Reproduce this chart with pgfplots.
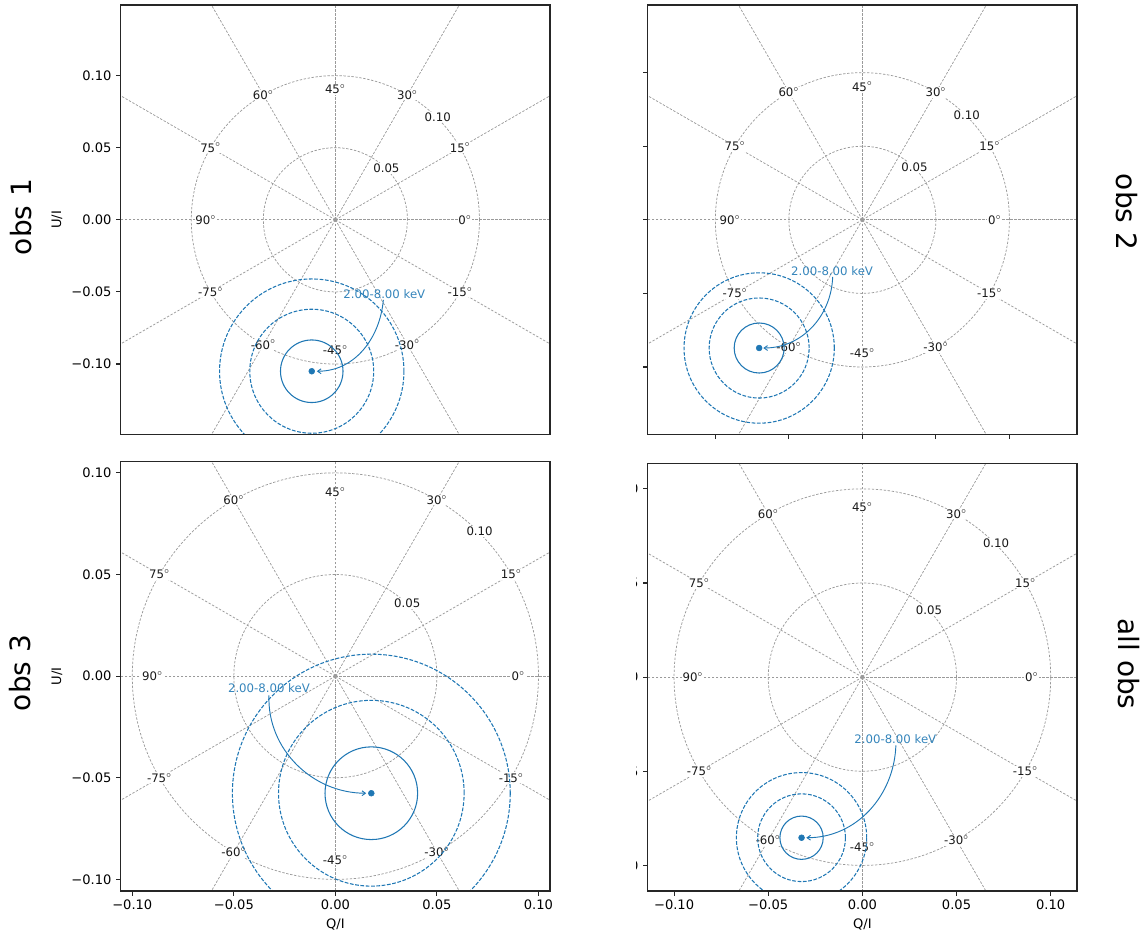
\documentclass[border=0pt]{standalone}
\usepackage{pgfplots}
\pgfplotsset{compat=1.18}
\usepackage{fontspec}
\setmainfont{DejaVu Sans}
\usetikzlibrary{arrows.meta}
\definecolor{tabblue}{HTML}{1F77B4}
\definecolor{gridgray}{HTML}{9A9A9A}
\newcommand{\dg}{$^{\circ}$}
\tikzset{
  gridline/.style={gridgray, line width=0.55pt, dash pattern=on 1.8pt off 1.2pt},
  lab/.style={fill=white, inner sep=0.6pt, font=\fontsize{8.8}{9}\selectfont, text=black!90},
  errc/.style={tabblue, line width=0.8pt},
  errd/.style={tabblue, line width=0.8pt, dash pattern=on 2.8pt off 1.2pt},
  ann/.style={text=tabblue!90, font=\fontsize{8.8}{9}\selectfont, inner sep=0pt},
  annarrow/.style={tabblue, line width=0.7pt, -{Straight Barb[length=2.6pt,width=3.6pt]}},
}
\newcommand{\polargrid}{%
  \draw[gridline] (axis cs:0,0) circle[radius=0.05];
  \draw[gridline] (axis cs:0,0) circle[radius=0.10];
  \draw[gridline] (axis cs:0,0) -- (axis cs:0.3,0);
  \draw[gridline] (axis cs:0,0) -- (axis cs:-0.3,0);
  \draw[gridline] (axis cs:0,0) -- (axis cs:0,0.3);
  \draw[gridline] (axis cs:0,0) -- (axis cs:0,-0.3);
  \draw[gridline] (axis cs:0,0) -- (axis cs:0.2598,0.15);
  \draw[gridline] (axis cs:0,0) -- (axis cs:-0.2598,-0.15);
  \draw[gridline] (axis cs:0,0) -- (axis cs:0.15,0.2598);
  \draw[gridline] (axis cs:0,0) -- (axis cs:-0.15,-0.2598);
  \draw[gridline] (axis cs:0,0) -- (axis cs:-0.15,0.2598);
  \draw[gridline] (axis cs:0,0) -- (axis cs:0.15,-0.2598);
  \draw[gridline] (axis cs:0,0) -- (axis cs:-0.2598,0.15);
  \draw[gridline] (axis cs:0,0) -- (axis cs:0.2598,-0.15);
  \node[lab] at (axis cs:0.09,0) {0\dg};
  \node[lab] at (axis cs:0.0866,0.05) {15\dg};
  \node[lab] at (axis cs:0.05,0.0866) {30\dg};
  \node[lab] at (axis cs:0,0.0905) {45\dg};
  \node[lab] at (axis cs:-0.05,0.0866) {60\dg};
  \node[lab] at (axis cs:-0.0866,0.05) {75\dg};
  \node[lab] at (axis cs:-0.09,0) {90\dg};
  \node[lab] at (axis cs:-0.0866,-0.05) {-75\dg};
  \node[lab] at (axis cs:-0.05,-0.0866) {-60\dg};
  \node[lab] at (axis cs:0,-0.0905) {-45\dg};
  \node[lab] at (axis cs:0.05,-0.0866) {-30\dg};
  \node[lab] at (axis cs:0.0866,-0.05) {-15\dg};
  \node[lab] at (axis cs:0.0354,0.0357) {0.05};
  \node[lab] at (axis cs:0.0710,0.0712) {0.10};
  \addplot[only marks, mark=*, mark size=1.1pt, color=gridgray] coordinates {(0,0)};
}
\pgfplotsset{
  pol/.style={
    scale only axis, anchor=south west,
    width=322pt, height=322.3pt,
    axis line style={line width=1pt, black!85},
    tick align=outside, tick pos=left,
    major tick length=3.4pt,
    every tick/.style={black!85, line width=0.8pt},
    tick label style={font=\fontsize{9.8}{10}\selectfont},
    label style={font=\fontsize{9.8}{10}\selectfont},
    xtick={-0.1,-0.05,0,0.05,0.1},
    ytick={-0.1,-0.05,0,0.05,0.1},
    xticklabels={−0.10,−0.05,0.00,0.05,0.10},
    yticklabels={−0.10,−0.05,0.00,0.05,0.10},
    clip=true, axis on top,
  }
}
\begin{document}
\begin{tikzpicture}
\useasboundingbox (0pt,0pt) rectangle (856.5pt,699.75pt);

% obs 1
\begin{axis}[pol, at={(90.53pt,373.73pt)},
  xmin=-0.149, xmax=0.149, ymin=-0.149, ymax=0.149,
  xtick=\empty, ylabel={U/I}]
  \polargrid
  \draw[errd] (axis cs:-0.0164,-0.105) circle[radius=0.064];
  \draw[errd] (axis cs:-0.0164,-0.105) circle[radius=0.043];
  \draw[errc] (axis cs:-0.0164,-0.105) circle[radius=0.0217];
  \addplot[only marks, mark=*, mark size=2.2pt, color=tabblue] coordinates {(-0.0164,-0.105)};
  \node[ann] at (axis cs:0.034,-0.0517) {2.00-8.00 keV};
  \draw[annarrow] (axis cs:0.0333,-0.0555) to[out=265,in=0] (axis cs:-0.0129,-0.105);
\end{axis}

% obs 2
\begin{axis}[pol, at={(485.78pt,373.73pt)},
  xmin=-0.146, xmax=0.146, ymin=-0.146, ymax=0.146,
  xticklabels=\empty, yticklabels=\empty]
  \polargrid
  \draw[errd] (axis cs:-0.0702,-0.0871) circle[radius=0.0511];
  \draw[errd] (axis cs:-0.0702,-0.0871) circle[radius=0.034];
  \draw[errc] (axis cs:-0.0702,-0.0871) circle[radius=0.017];
  \addplot[only marks, mark=*, mark size=2.2pt, color=tabblue] coordinates {(-0.0702,-0.0871)};
  \node[ann] at (axis cs:-0.0206,-0.0348) {2.00-8.00 keV};
  \draw[annarrow] (axis cs:-0.0202,-0.0388) to[out=268,in=0] (axis cs:-0.0674,-0.0871);
\end{axis}

% obs 3
\begin{axis}[pol, at={(90.53pt,31.5pt)},
  xmin=-0.1057, xmax=0.1057, ymin=-0.1057, ymax=0.1057,
  xlabel={Q/I}, ylabel={U/I}]
  \polargrid
  \draw[errd] (axis cs:0.0177,-0.0576) circle[radius=0.0684];
  \draw[errd] (axis cs:0.0177,-0.0576) circle[radius=0.0457];
  \draw[errc] (axis cs:0.0177,-0.0576) circle[radius=0.0228];
  \addplot[only marks, mark=*, mark size=2.2pt, color=tabblue] coordinates {(0.0177,-0.0576)};
  \node[ann] at (axis cs:-0.0327,-0.00575) {2.00-8.00 keV};
  \draw[annarrow] (axis cs:-0.0327,-0.0095) to[out=268,in=180] (axis cs:0.0152,-0.0576);
\end{axis}

% all obs
\begin{axis}[pol, at={(485.78pt,31.5pt)}, height=320.8pt,
  xmin=-0.114, xmax=0.114, ymin=-0.1136, ymax=0.1136,
  xlabel={Q/I}]
  \polargrid
  \draw[errd] (axis cs:-0.0323,-0.0853) circle[radius=0.0346];
  \draw[errd] (axis cs:-0.0323,-0.0853) circle[radius=0.0233];
  \draw[errc] (axis cs:-0.0323,-0.0853) circle[radius=0.0115];
  \addplot[only marks, mark=*, mark size=2.2pt, color=tabblue] coordinates {(-0.0323,-0.0853)};
  \node[ann] at (axis cs:0.0175,-0.0329) {2.00-8.00 keV};
  \draw[annarrow] (axis cs:0.0178,-0.0362) to[out=268,in=0] (axis cs:-0.0298,-0.0853);
\end{axis}

% cover most of the clipped y tick labels of the last panel
\fill[white] (414.75pt,22.5pt) rectangle (476.8pt,358.5pt);

% row labels
\node[rotate=90, inner sep=0pt, font=\fontsize{21}{21}\selectfont] at (15.75pt,537pt) {obs 1};
\node[rotate=90, inner sep=0pt, font=\fontsize{21}{21}\selectfont] at (15pt,195pt) {obs 3};
\node[rotate=-90, inner sep=0pt, font=\fontsize{21}{21}\selectfont] at (845.25pt,540.75pt) {obs 2};
\node[rotate=-90, inner sep=0pt, font=\fontsize{21}{21}\selectfont] at (846.75pt,201.75pt) {all obs};
\end{tikzpicture}
\end{document}
